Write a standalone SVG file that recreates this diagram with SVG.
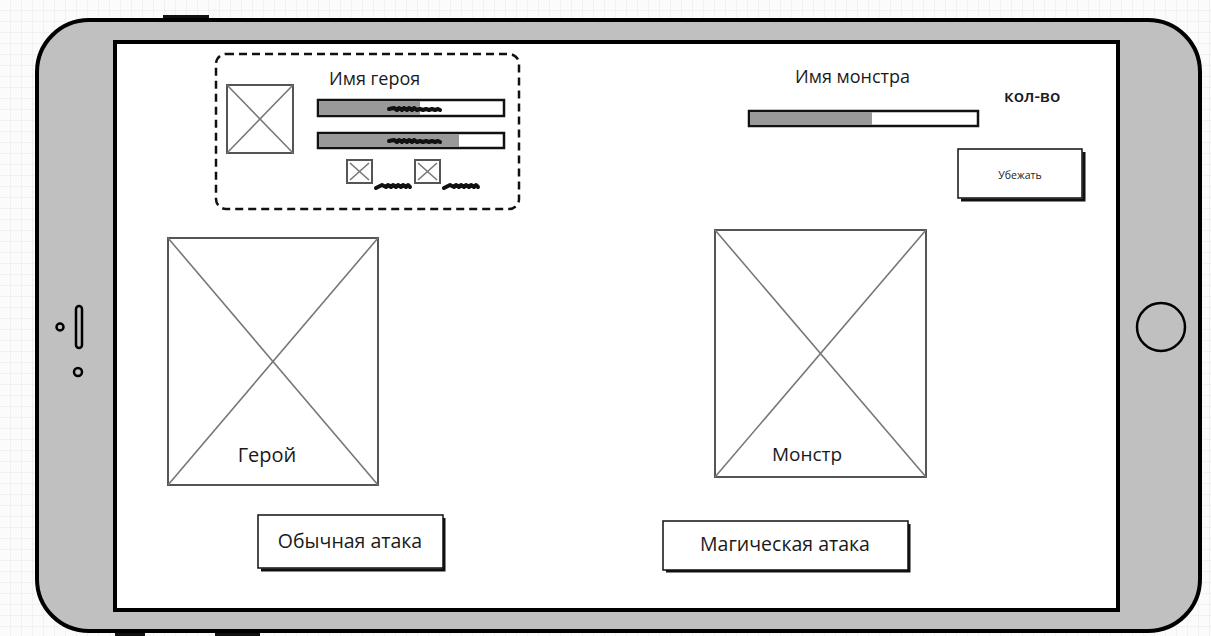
<svg xmlns="http://www.w3.org/2000/svg" width="1211" height="636" viewBox="0 0 1211 636">
<defs>
<pattern id="grid" width="11" height="11" patternUnits="userSpaceOnUse">
<rect width="11" height="11" fill="#fbfbfb"/>
<path d="M11 0V11H0" fill="none" stroke="#e8e8e8" stroke-width="1"/>
</pattern>
<style>
.t{font-family:"Open Sans","Liberation Sans",sans-serif;fill:#1a1a1a}
.img{fill:#fff;stroke:#555;stroke-width:2}
.x{stroke:#777;stroke-width:1.6}
.bar{stroke:#111;stroke-width:2.5;fill:#fff}
.sq{fill:none;stroke:#111;stroke-width:4;stroke-linecap:round;stroke-linejoin:round}
.btn{fill:#fff;stroke:#111;stroke-width:1.5}
.sh{fill:none;stroke:#111;stroke-width:3}
</style>
</defs>
<rect width="1211" height="636" fill="url(#grid)"/>
<g id="phone">
<rect x="163" y="15" width="46" height="6" fill="#111"/>
<rect x="115" y="628" width="30" height="8" fill="#111"/>
<rect x="215" y="628" width="45" height="8" fill="#111"/>
<rect x="37" y="20" width="1163" height="611" rx="52" fill="#c0c0c0" stroke="#000" stroke-width="4"/>
<rect x="115" y="42" width="1003" height="568" fill="#fff" stroke="#000" stroke-width="4"/>
<circle cx="60" cy="327" r="3.5" fill="none" stroke="#000" stroke-width="2.5"/>
<rect x="76" y="306" width="6" height="42" rx="3" fill="#c0c0c0" stroke="#000" stroke-width="2.5"/>
<circle cx="78" cy="372" r="4" fill="none" stroke="#000" stroke-width="2.5"/>
<circle cx="1161" cy="327" r="24" fill="none" stroke="#000" stroke-width="2.5"/>
</g>
<g id="hero-panel">
<rect x="216" y="54" width="303" height="155" rx="10" fill="none" stroke="#111" stroke-width="2.5" stroke-dasharray="8 5"/>
<rect class="img" x="227" y="85" width="66" height="68"/>
<line class="x" x1="227" y1="85" x2="293" y2="153"/><line class="x" x1="293" y1="85" x2="227" y2="153"/>
<text class="t" x="329" y="85" font-size="18">Имя героя</text>
<rect class="bar" x="318" y="100" width="186" height="16"/>
<rect x="319" y="101" width="101" height="14" fill="#999"/>
<path class="sq" d="M389 109l5-1 3 2 2-2 3 2 2-2 3 2 2-2 3 2 2-2 3 2 3-1 3 1 3-1 3 1 3-1 3 1 3-1 2 1"/>
<rect class="bar" x="318" y="133" width="186" height="15"/>
<rect x="319" y="134" width="140" height="13" fill="#999"/>
<path class="sq" d="M389 141l5-1 3 2 2-2 3 2 2-2 3 2 2-2 3 2 2-2 3 2 3-1 3 1 3-1 3 1 3-1 3 1 3-1 2 1"/>
<rect class="img" x="347" y="160" width="25" height="23" stroke="#222"/>
<line class="x" x1="350" y1="163" x2="369" y2="180"/><line class="x" x1="369" y1="163" x2="350" y2="180"/>
<rect class="img" x="415" y="160" width="25" height="23" stroke="#222"/>
<line class="x" x1="418" y1="163" x2="437" y2="180"/><line class="x" x1="437" y1="163" x2="418" y2="180"/>
<path class="sq" d="M376 188l6-3 4 2 2-2 3 2 2-2 3 2 2-2 3 2 2-2 3 2 2-2 2 2"/>
<path class="sq" d="M444 188l6-3 4 2 2-2 3 2 2-2 3 2 2-2 3 2 2-2 3 2 2-2 2 2"/>
</g>
<g id="monster-panel">
<text class="t" x="795" y="83" font-size="18">Имя монстра</text>
<text class="t" x="1004" y="102" font-size="17" font-weight="600">кол-во</text>
<rect class="bar" x="749" y="111" width="229" height="15"/>
<rect x="750" y="112" width="122" height="13" fill="#999"/>
</g>
<g id="run-button">
<path class="sh" d="M1084 152V200H961"/>
<rect class="btn" x="958" y="149" width="124" height="49"/>
<text class="t" x="1020" y="179" font-size="10.5" text-anchor="middle">Убежать</text>
</g>
<g id="hero">
<rect class="img" x="168" y="238" width="210" height="247"/>
<line class="x" x1="168" y1="238" x2="378" y2="485"/><line class="x" x1="378" y1="238" x2="168" y2="485"/>
<text class="t" x="267" y="462" font-size="20" text-anchor="middle">Герой</text>
</g>
<g id="monster">
<rect class="img" x="715" y="230" width="211" height="247"/>
<line class="x" x1="715" y1="230" x2="926" y2="477"/><line class="x" x1="926" y1="230" x2="715" y2="477"/>
<text class="t" x="807" y="461" font-size="19" text-anchor="middle">Монстр</text>
</g>
<g id="attack-button">
<path class="sh" d="M444 518V570H261"/>
<rect class="btn" x="258" y="515" width="185" height="53"/>
<text class="t" x="350" y="548" font-size="19.5" text-anchor="middle">Обычная атака</text>
</g>
<g id="magic-button">
<path class="sh" d="M909 524V571H666"/>
<rect class="btn" x="663" y="521" width="245" height="49"/>
<text class="t" x="785" y="551" font-size="19.5" text-anchor="middle">Магическая атака</text>
</g>
<g id="connectors"/>
</svg>
